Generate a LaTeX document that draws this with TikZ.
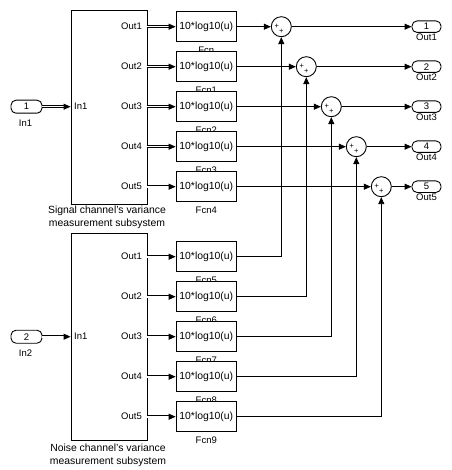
\documentclass[tikz,border=0pt]{standalone}
\usepackage{fontspec}
\setmainfont{Liberation Sans}
\usetikzlibrary{arrows.meta}
\begin{document}
\begin{tikzpicture}[x=1pt,y=-1pt,
  every node/.style={font=\fontsize{9.5}{11}\selectfont, inner sep=0pt},
  blk/.style={draw, line width=0.9pt, fill=white},
  fcnbox/.style={blk, minimum width=60.5pt, minimum height=29.6pt, font=\fontsize{10.4}{12}\selectfont},
  subbox/.style={blk, minimum width=76pt},
  inport/.style={blk, rounded corners=5pt, minimum width=31pt, minimum height=13pt},
  outport/.style={blk, rounded corners=5pt, minimum width=29pt, minimum height=11.5pt},
  sumnode/.style={blk, circle, minimum size=20pt},
  sgn/.style={font=\fontsize{7.5}{8}\selectfont},
  wire/.style={line width=0.9pt},
  arr/.style={wire, -{Triangle[length=7pt,width=6pt]}},
  dbl/.style={line width=0.75pt, double, double distance=1.6pt},
  captext/.style={align=center, font=\fontsize{10.4}{13.5}\selectfont}
]
\useasboundingbox (0,0) rectangle (451,470);

% subsystems
\node[subbox, minimum height=194pt] (subS) at (109,107) {};
\node[subbox, minimum height=207.5pt] (subN) at (109,337) {};
\node[captext, anchor=north] (capS) at (107,205.5) {Signal channel's variance\\measurement subsystem};
\node[captext, anchor=north] (capN) at (108,443.5) {Noise channel's variance\\measurement subsystem};
\node[anchor=west] (inS) at (74,106.7) {In1};
\node[anchor=west] (inN) at (74,336.7) {In1};

% input ports
\node[inport] (in1) at (26.5,106.7) {1};
\node (in1l) at (25.5,123.3) {In1};
\node[inport] (in2) at (26.5,336.7) {2};
\node (in2l) at (25.5,353.3) {In2};
\draw[dbl] (in1.east) -- ([xshift=-7pt]subS.west |- in1.east);
\draw[arr] ([xshift=-7pt]subS.west |- in1.east) -- (subS.west |- in1.east);
\draw[dbl] (in2.east) -- ([xshift=-7pt]subN.west |- in2.east);
\draw[arr] ([xshift=-7pt]subN.west |- in2.east) -- (subN.west |- in2.east);

\foreach \i/\ys/\yn/\ls/\ln in {1/26.7/256.7/Fcn/Fcn5, 2/66.7/296.7/Fcn1/Fcn6, 3/106.7/336.7/Fcn2/Fcn7, 4/146.7/376.7/Fcn3/Fcn8, 5/186.7/416.7/Fcn4/Fcn9}{
  \pgfmathsetmacro{\sx}{281.3+25*(\i-1)}
  % labels first so boxes overlap them
  \node (lfs\i) at (206.3,\ys+23.8) {\ls};
  \node (lfn\i) at (206.3,\yn+23.8) {\ln};
  \node[anchor=east] (os\i) at (142,\ys) {Out\i};
  \node[anchor=east] (on\i) at (142,\yn) {Out\i};
  \node[fcnbox] (fs\i) at (206.3,\ys) {10*log10(u)};
  \node[fcnbox] (fn\i) at (206.3,\yn) {10*log10(u)};
  \draw[dbl] (subS.east |- fs\i.west) -- ([xshift=-7pt]fs\i.west);
  \draw[arr] ([xshift=-7pt]fs\i.west) -- (fs\i.west);
  \draw[dbl] (subN.east |- fn\i.west) -- ([xshift=-7pt]fn\i.west);
  \draw[arr] ([xshift=-7pt]fn\i.west) -- (fn\i.west);
  \node[sumnode] (sum\i) at (\sx,\ys) {};
  \node[sgn] (pa\i) at ([shift={(-4.6,-0.8)}]sum\i.center) {+};
  \node[sgn] (pb\i) at ([shift={(0,4.6)}]sum\i.center) {+};
  \node[outport] (out\i) at (426.5,\ys) {\i};
  \node (outl\i) at (426.5,\ys+10.5) {Out\i};
  \draw[arr] (fs\i.east) -- (sum\i.west);
  \draw[arr] (sum\i.east) -- (out\i.west);
  \draw[arr] (fn\i.east) -| (sum\i.south);
}
\end{tikzpicture}
\end{document}
